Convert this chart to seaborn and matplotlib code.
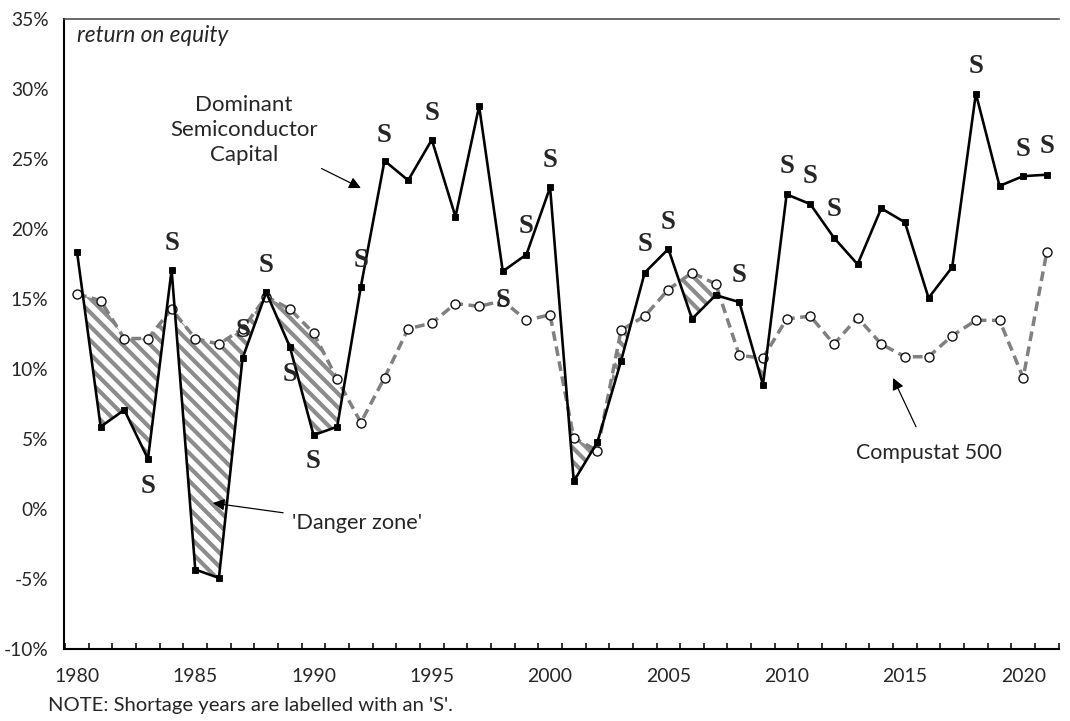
import matplotlib
matplotlib.use("Agg")
import matplotlib.pyplot as plt
from matplotlib.ticker import FixedLocator, FuncFormatter
import numpy as np
import pandas as pd
import seaborn as sns

# ---------------------------------------------------------------------------
# Data (return on equity, %)
# ---------------------------------------------------------------------------
years = list(range(1980, 2022))

dominant = [18.4, 5.9, 7.1, 3.6, 17.1, -4.3, -4.9, 10.8, 15.5, 11.6,
            5.3, 5.9, 15.9, 24.9, 23.5, 26.4, 20.9, 28.8, 17.0, 18.2,
            23.0, 2.0, 4.8, 10.6, 16.9, 18.6, 13.6, 15.3, 14.8, 8.9,
            22.5, 21.8, 19.4, 17.5, 21.5, 20.5, 15.1, 17.3, 29.7, 23.1,
            23.8, 23.9]

compustat = [15.4, 14.9, 12.2, 12.2, 14.3, 12.2, 11.8, 12.9, 15.2, 14.3,
             12.6, 9.3, 6.2, 9.4, 12.9, 13.3, 14.7, 14.5, 14.9, 13.5,
             13.9, 5.1, 4.2, 12.8, 13.8, 15.7, 16.9, 16.1, 11.0, 10.8,
             13.6, 13.8, 11.8, 13.7, 11.8, 10.9, 10.9, 12.4, 13.5, 13.5,
             9.4, 18.4]

# shortage years and where their 'S' label sits
shortage_years = [1983, 1984, 1987, 1988, 1989, 1990, 1992, 1993, 1995, 1998,
                  1999, 2000, 2004, 2005, 2008, 2010, 2011, 2012, 2018, 2020, 2021]
shortage_label_y = [1.6, 19.0, 12.8, 17.4, 9.6, 3.4, 17.8, 26.7, 28.3, 14.95,
                    20.2, 24.95, 18.9, 20.5, 16.7, 24.5, 23.8, 21.4, 31.6, 25.7, 25.9]

y_ticks = [-10, -5, 0, 5, 10, 15, 20, 25, 30, 35]
x_labels = [1980, 1985, 1990, 1995, 2000, 2005, 2010, 2015, 2020]

df = pd.DataFrame({"year": years, "dominant": dominant, "compustat": compustat})

# ---------------------------------------------------------------------------
# Style
# ---------------------------------------------------------------------------
sns.set_style("white")
plt.rcParams["font.family"] = ["Lato", "DejaVu Sans"]
plt.rcParams["hatch.linewidth"] = 2.4
plt.rcParams["hatch.color"] = "#8c8c8c"

fig = plt.figure(figsize=(8.56, 5.768), dpi=125)
ax = fig.add_axes([0.0598, 0.0994, 0.9296, 0.8738])

# danger zone: dominant below the market
dom = df["dominant"].to_numpy()
cmp_ = df["compustat"].to_numpy()
ax.fill_between(df["year"], dom, cmp_, where=dom < cmp_, interpolate=True,
                facecolor="white", edgecolor="#8c8c8c", hatch="\\\\\\",
                linewidth=0, zorder=1)

sns.lineplot(data=df, x="year", y="compustat", ax=ax, color="#808080",
             linewidth=2.0, linestyle=(0, (2.8, 1.6)), marker="o",
             markersize=5.2, markerfacecolor="white", markeredgecolor="#111111",
             markeredgewidth=0.8, zorder=2)
sns.lineplot(data=df, x="year", y="dominant", ax=ax, color="black",
             linewidth=1.5, marker="s", markersize=4.0,
             markerfacecolor="black", markeredgecolor="black",
             markeredgewidth=0.5, zorder=3)

for yr, yv in zip(shortage_years, shortage_label_y):
    ax.text(yr, yv, "S", ha="center", va="center", fontsize=15.5,
            fontweight="bold", family="Liberation Serif", zorder=4)

# annotations
ax.annotate("Dominant\nSemiconductor\nCapital", xy=(1992.0, 22.95),
            xytext=(1987.05, 27.1), ha="center", va="center", fontsize=12.8,
            linespacing=1.3,
            arrowprops=dict(arrowstyle="-|>", color="black", lw=0.7,
                            mutation_scale=14, shrinkA=40, shrinkB=0))
ax.annotate("'Danger zone'", xy=(1985.74, 0.45), xytext=(1989.1, -0.98),
            ha="left", va="center", fontsize=12.5,
            arrowprops=dict(arrowstyle="-|>", color="black", lw=0.7,
                            mutation_scale=14, shrinkA=3, shrinkB=0))
ax.annotate("Compustat 500", xy=(2014.5, 9.38), xytext=(2016.0, 4.0),
            ha="center", va="center", fontsize=12.3,
            arrowprops=dict(arrowstyle="-|>", color="black", lw=0.7,
                            mutation_scale=14, shrinkA=8, shrinkB=0))

ax.text(0.013, 0.975, "return on equity", transform=ax.transAxes,
        ha="left", va="center", fontsize=13, style="italic")

# axes
ax.set_xlim(1979.45, 2021.5)
ax.set_ylim(-10, 35)
ax.set_yticks(y_ticks)
ax.yaxis.set_major_formatter(FuncFormatter(lambda v, _: f"{v:.0f}%"))
ax.set_xticks(x_labels)
ax.xaxis.set_minor_locator(FixedLocator(np.arange(1979.5, 2021.6, 1.0)))
ax.tick_params(axis="x", which="major", length=0, pad=11, labelsize=11.2)
ax.tick_params(axis="x", which="minor", direction="in", length=3.2,
               width=0.9, color="black", bottom=True)
ax.tick_params(axis="y", length=0, pad=9, labelsize=11)
ax.set_xlabel("")
ax.set_ylabel("")
for side in ("left", "bottom", "top"):
    ax.spines[side].set_visible(True)
    ax.spines[side].set_color("black")
    ax.spines[side].set_linewidth(1.2)
ax.spines["top"].set_color("#444444")
ax.spines["top"].set_linewidth(0.9)
ax.spines["right"].set_visible(False)

fig.text(0.045, 0.022, "NOTE: Shortage years are labelled with an 'S'.",
         ha="left", va="center", fontsize=11.7)

fig.savefig("out.png", dpi=125)
